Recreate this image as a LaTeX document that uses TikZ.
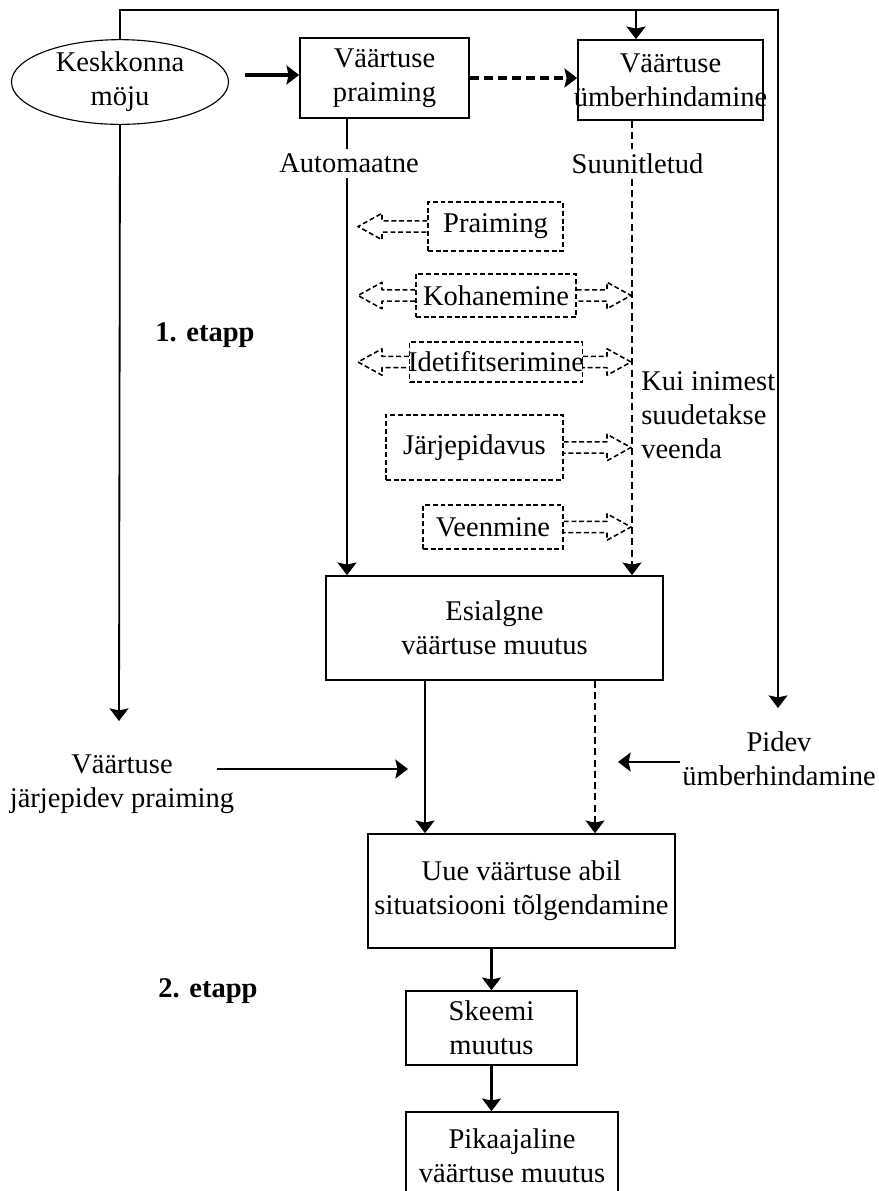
\documentclass[tikz,border=0pt]{standalone}
\usepackage{fontspec}
\setmainfont{Liberation Serif}
\usetikzlibrary{arrows.meta,calc,shapes.geometric}

% hollow (outlined) dashed arrow from #1 (tail) to #2 (tip)
\newcommand{\hollowarrow}[2]{%
  \draw[hollow] let \p1=(#1), \p2=(#2), \p3=($(#2)!0.6cm!(#1)$) in
    (\x1,\y1+0.14cm) -- (\x3,\y1+0.14cm) -- (\x3,\y1+0.33cm) -- (\x2,\y2)
    -- (\x3,\y1-0.33cm) -- (\x3,\y1-0.14cm) -- (\x1,\y1-0.14cm);}

\tikzset{
  box/.style={draw, line width=1.2pt, inner sep=0pt, align=center},
  dbox/.style={draw, dash pattern=on 3.5pt off 2pt, line width=1.1pt, inner sep=0pt, align=center},
  arr/.style={-{Stealth[length=9pt,width=13.5pt,inset=1.5pt]}, line width=1.3pt},
  darr/.style={arr, dash pattern=on 5pt off 3pt},
  bigarr/.style={arr, line width=2.4pt},
  hollow/.style={dash pattern=on 3.5pt off 2pt, line width=1.1pt, line join=round},
}

\begin{document}
\begin{tikzpicture}[font=\fontsize{20.3}{24.2}\selectfont]
        \useasboundingbox (0,0) rectangle (21.975,-29.775);

        % Draw the top row
        \node[ellipse, draw, line width=0.8pt, minimum width=5.425cm, minimum height=2.025cm,
              inner sep=0pt, align=center] (env) at (3.0,-2.05) {Keskkonna\\möju};
        \node[box, minimum width=4.225cm, minimum height=2cm] (prm) at (9.6125,-1.95) {Väärtuse\\praiming};
        \node[box, minimum width=4.625cm, minimum height=2cm, inner xsep=-0.12cm] (umb) at (16.7625,-2.0) {Väärtuse\\ümberhindamine};

        % Labels under the top boxes
        \node (aut) at (8.725,-4.0875) {Automaatne};
        \node (suu) at (15.9375,-4.0875) {Suunitletud};
        \node[anchor=west, inner sep=0pt, align=left] (kui) at (16.025,-10.3875) {Kui inimest\\suudetakse\\veenda};
        \node (et1) at (5.125,-8.375) {\textbf{1. etapp}};
        \node (et2) at (5.2,-24.775) {\textbf{2. etapp}};

        % Dashed boxes in between
        \node[dbox, minimum width=3.375cm, minimum height=1.225cm] (pra) at (12.3875,-5.6625) {Praiming};
        \node[dbox, minimum width=4.0cm, minimum height=1.075cm] (koh) at (12.4,-7.3875) {Kohanemine};
        \node[dbox, minimum width=4.2cm, minimum height=1.0cm, inner xsep=-0.04cm] (ide) at (12.4,-9.05) {Idetifitserimine};
        \node[dbox, minimum width=4.425cm, minimum height=1.625cm] (jar) at (11.8625,-11.1875) {Järjepidavus};
        \node[dbox, minimum width=3.5cm, minimum height=1.1cm] (vee) at (12.325,-13.175) {Veenmine};

        % Lower boxes
        \node[box, minimum width=8.425cm, minimum height=2.6cm] (esi) at (12.3625,-15.7) {Esialgne\\väärtuse muutus};
        \node[box, minimum width=7.675cm, minimum height=2.85cm] (uue) at (13.0375,-22.275) {Uue väärtuse abil\\situatsiooni tõlgendamine};
        \node[box, minimum width=4.275cm, minimum height=1.85cm] (ske) at (12.2875,-25.7) {Skeemi\\muutus};
        \node[box, minimum width=5.3cm, minimum height=2.2cm] (pik) at (12.8,-28.9) {Pikaajaline\\väärtuse muutus};

        % Side labels
        \node[align=center] (vjp) at (3.05,-19.6) {Väärtuse\\järjepidev praiming};
        \node[align=center] (pid) at (19.475,-18.975) {Pidev\\ümberhindamine};

        % Helper coordinates
        \coordinate (autoX) at (8.675,0);
        \coordinate (sugX) at (15.8,0);
        \coordinate (tipL) at (8.95,0);
        \coordinate (tipR) at (15.775,0);
        \coordinate (solX) at (10.625,0);
        \coordinate (dshX) at (14.875,0);
        \coordinate (topR) at (19.45,-0.25);
        \coordinate (topX) at (15.9,-0.25);
        \coordinate (pidend) at (19.45,-17.7);
        \coordinate (envout) at (6.125,-1.875);
        \coordinate (leftend) at (2.975,-18.025);
        \coordinate (vjpout) at (5.425,-19.225);
        \coordinate (vjpin) at (10.2,-19.225);
        \coordinate (pidout) at (17.0,-19.05);
        \coordinate (pidin) at (15.45,-19.05);

        % Draw the arrows
        \draw[arr, line width=1.1pt] (env.north) |- (topR) -- (pidend);
        \draw[arr] (topX) -- (topX |- umb.north);
        \draw[bigarr] (envout) -- (envout -| prm.west);
        \draw[bigarr, dash pattern=on 6.4pt off 3.6pt] (prm.east) -- (prm.east -| umb.west);
        \draw[arr] (env.south) -- (leftend);

        % automatic branch
        \draw[line width=1.3pt] (prm.south -| autoX) -- (aut.north -| autoX);
        \draw[arr] (aut.south -| autoX) -- (esi.north -| autoX);
        % planned branch
        \draw[line width=1.3pt, dash pattern=on 5pt off 3pt] (umb.south -| sugX) -- (suu.north -| sugX);
        \draw[darr] (suu.south -| sugX) -- (esi.north -| sugX);

        % hollow arrows
        \hollowarrow{pra.west}{pra.west -| tipL}
        \hollowarrow{koh.west}{koh.west -| tipL}
        \hollowarrow{koh.east}{koh.east -| tipR}
        \hollowarrow{ide.west}{ide.west -| tipL}
        \hollowarrow{ide.east}{ide.east -| tipR}
        \hollowarrow{jar.east}{jar.east -| tipR}
        \hollowarrow{vee.east}{vee.east -| tipR}

        % second stage
        \draw[arr] (esi.south -| solX) -- (uue.north -| solX);
        \draw[darr] (esi.south -| dshX) -- (uue.north -| dshX);
        \draw[arr, line width=1.6pt] (vjpout) -- (vjpin);
        \draw[arr, line width=1.6pt] (pidout) -- (pidin);
        \draw[arr, line width=1.6pt] (uue.south -| ske.north) -- (ske.north);
        \draw[arr, line width=1.6pt] (ske.south) -- (ske.south |- pik.north);
\end{tikzpicture}
\end{document}
